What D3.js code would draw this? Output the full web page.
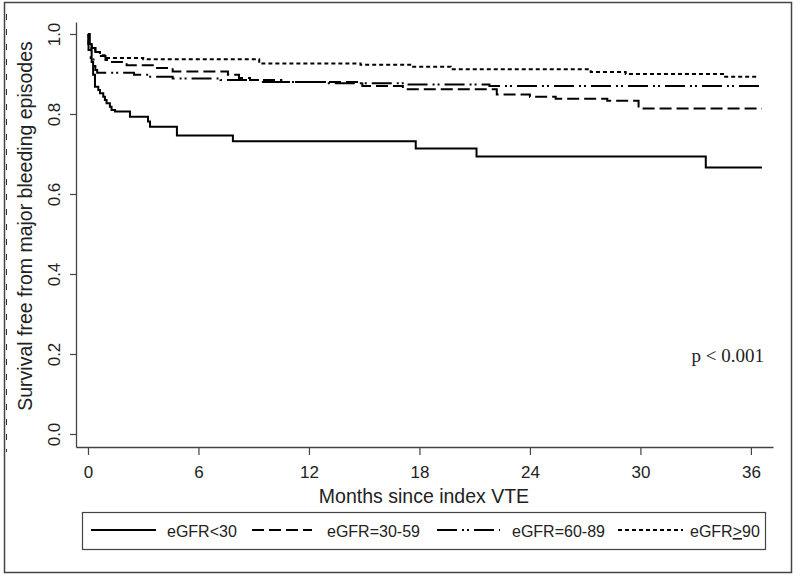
<!DOCTYPE html>
<html><head><meta charset="utf-8">
<script src="https://cdn.jsdelivr.net/npm/d3@7"></script>
<style>
html,body{margin:0;padding:0;background:#fff;}
svg{display:block;}
text{font-family:"Liberation Sans", Arial, sans-serif; fill:#222;}
</style></head>
<body><svg id="chart" width="800" height="579"></svg>
<script>
// ---- data ----
const seriesNames = ["eGFR<30", "eGFR=30-59", "eGFR=60-89", "eGFR>90"];
const months_lt30 = [0, 0.1, 0.2, 0.28, 0.38, 0.56, 0.65, 0.83, 0.92, 1.01, 1.19, 1.28, 1.47, 2.28, 3.26, 3.37, 4.83, 7.87, 17.8, 21.1, 33.55, 36.6];
const surv_lt30   = [1.0, 0.975, 0.93, 0.898, 0.868, 0.86, 0.852, 0.843, 0.835, 0.827, 0.818, 0.81, 0.806, 0.793, 0.781, 0.768, 0.746, 0.732, 0.714, 0.694, 0.666, 0.666];
const months_3059 = [0, 0.03, 0.2, 0.4, 0.7, 0.95, 1.2, 2.1, 3.6, 4.6, 7.6, 8.2, 8.8, 10.5, 14.9, 17.1, 22.2, 24.0, 25.4, 28.2, 29.9, 36.6];
const surv_3059   = [1.0, 0.975, 0.965, 0.955, 0.945, 0.935, 0.93, 0.922, 0.915, 0.906, 0.898, 0.89, 0.885, 0.88, 0.87, 0.862, 0.849, 0.843, 0.838, 0.833, 0.814, 0.814];
const months_6089 = [0, 0.03, 0.15, 0.3, 0.4, 0.5, 2.5, 3.3, 4.6, 7.2, 9.5, 13.0, 17.3, 21.8, 36.6];
const surv_6089   = [1.0, 0.96, 0.94, 0.92, 0.91, 0.903, 0.898, 0.893, 0.889, 0.885, 0.88, 0.877, 0.874, 0.87, 0.87];
const months_ge90 = [0, 0.03, 0.2, 0.4, 0.65, 0.9, 3.0, 9.3, 14.8, 17.6, 19.7, 27.3, 29.2, 34.6, 36.4];
const surv_ge90   = [1.0, 0.975, 0.965, 0.955, 0.947, 0.94, 0.937, 0.926, 0.923, 0.918, 0.912, 0.905, 0.9, 0.893, 0.893];
const xTicks = [0, 6, 12, 18, 24, 30, 36];
const yTicks = [0, 0.2, 0.4, 0.6, 0.8, 1.0];
const xTitle = "Months since index VTE";
const yTitle = "Survival free from major bleeding episodes";
const pText = "p < 0.001";

// ---- styling ----
const dashes = ["none", "12,5", "20,5,2,3,2,5", "4,3"];

const svg = d3.select("#chart");
const x = d3.scaleLinear().domain([-0.65, 37.2]).range([76, 773]);
const y = d3.scaleLinear().domain([-0.0325, 1.03]).range([447, 22]);

// outer frame
svg.append("rect").attr("x", 4.5).attr("y", 2.5).attr("width", 787).attr("height", 570)
  .attr("fill", "none").attr("stroke", "#444").attr("stroke-width", 1.5);
// dashed artifact on left edge
svg.append("line").attr("x1", 6.5).attr("x2", 6.5).attr("y1", 14).attr("y2", 452)
  .attr("stroke", "#333").attr("stroke-width", 1).attr("stroke-dasharray", "6,9");

// axes
const xAxis = svg.append("g").attr("transform", "translate(0,447)")
  .call(d3.axisBottom(x).tickValues(xTicks).tickSize(8).tickSizeOuter(0).tickFormat(d3.format("d")));
const yAxis = svg.append("g").attr("transform", "translate(76,0)")
  .call(d3.axisLeft(y).tickValues(yTicks).tickSize(6).tickSizeOuter(0).tickFormat(d3.format(".1f")));
[xAxis, yAxis].forEach(g => {
  g.select(".domain").attr("stroke", "#444").attr("stroke-width", 1.3);
  g.selectAll(".tick line").attr("stroke", "#444").attr("stroke-width", 1.2);
  g.selectAll("text").attr("fill", "#222").style("font-family", '"Liberation Sans", Arial, sans-serif');
});
xAxis.selectAll("text").attr("font-size", 17).attr("y", 19).attr("dy", "0.71em");
yAxis.selectAll("text").attr("font-size", 17)
  .attr("transform", "rotate(-90)").attr("x", 0).attr("y", -16).attr("dy", 0)
  .attr("text-anchor", "middle");

// titles
svg.append("text").attr("x", 424).attr("y", 503).attr("text-anchor", "middle")
  .attr("font-size", 19.5).text(xTitle);
svg.append("text").attr("transform", "translate(32,226) rotate(-90)").attr("text-anchor", "middle")
  .attr("font-size", 19.5).text(yTitle);

// curves
const series = [
  [months_lt30, surv_lt30],
  [months_3059, surv_3059],
  [months_6089, surv_6089],
  [months_ge90, surv_ge90]
];
const line = d3.line().x(d => x(d[0])).y(d => y(d[1])).curve(d3.curveStepAfter);
series.forEach((s, i) => {
  const pts = s[0].map((m, j) => [m, s[1][j]]);
  svg.append("path").datum(pts).attr("d", line).attr("fill", "none")
    .attr("stroke", "#000").attr("stroke-width", 2)
    .attr("stroke-dasharray", dashes[i]);
});

// p-value
svg.append("text").attr("x", 764).attr("y", 362).attr("text-anchor", "end")
  .style("font-family", '"Liberation Serif", "Times New Roman", serif')
  .attr("font-size", 19).text(pText);

// legend
svg.append("rect").attr("x", 82.5).attr("y", 512.5).attr("width", 683).attr("height", 37)
  .attr("fill", "#fff").attr("stroke", "#444").attr("stroke-width", 1.2);
const legLine = [[91, 156], [252, 312], [437, 500], [618, 683]];
const legText = [167, 327, 512, 690];
seriesNames.forEach((n, i) => {
  svg.append("line").attr("x1", legLine[i][0]).attr("x2", legLine[i][1])
    .attr("y1", 530).attr("y2", 530).attr("stroke", "#000").attr("stroke-width", 2)
    .attr("stroke-dasharray", dashes[i]);
  const t = svg.append("text").attr("x", legText[i]).attr("y", 537).attr("font-size", 16);
  if (n.indexOf(">") >= 0) {
    const parts = n.split(">");
    t.append("tspan").text(parts[0]);
    t.append("tspan").style("text-decoration", "underline").text(">");
    t.append("tspan").text(parts[1]);
  } else {
    t.text(n);
  }
});
</script></body></html>
